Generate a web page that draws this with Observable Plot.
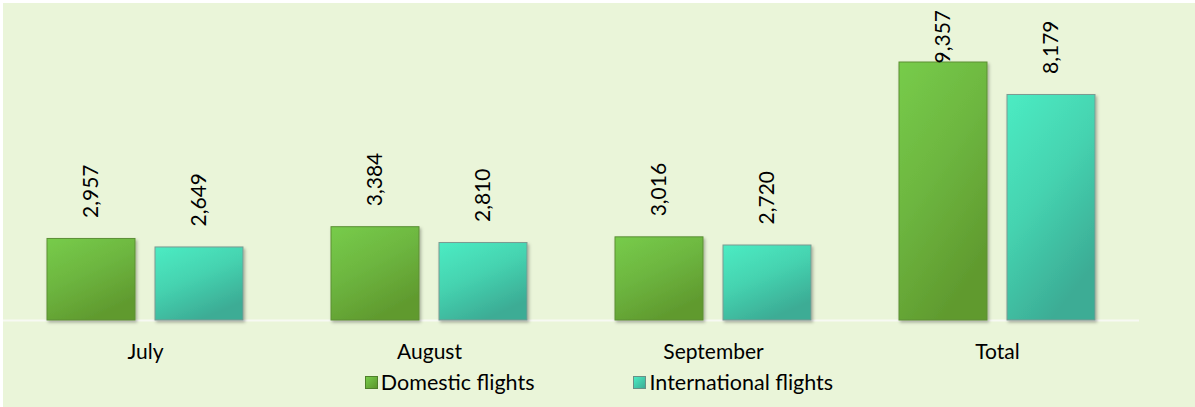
<!DOCTYPE html>
<html><head><meta charset="utf-8">
<script src="https://cdn.jsdelivr.net/npm/d3@7"></script>
<script src="https://cdn.jsdelivr.net/npm/@observablehq/plot@0.6"></script>
<style>
body{margin:0;background:#fff;}
#frame{position:absolute;left:3px;top:3px;width:1192px;height:404px;background:#eaf5d9;font-family:Lato,sans-serif;color:#000;}
#plot svg{display:block;}
#legend{display:flex;justify-content:center;align-items:center;gap:99px;height:28px;font-size:21.5px;}
#legend .item{display:flex;align-items:center;gap:3px;}
#legend .sw{width:13px;height:13px;box-sizing:border-box;}
</style></head><body>
<div id="frame"><div id="plot"></div><div id="legend"></div></div>
<script>
const months = ["July", "August", "September", "Total"];
const series = ["Domestic flights", "International flights"];
const domestic = [2957, 3384, 3016, 9357];
const international = [2649, 2810, 2720, 8179];

const data = months.flatMap((m, i) => [
  {month: m, series: series[0], value: domestic[i]},
  {month: m, series: series[1], value: international[i]}
]);
const fmt = d3.format(",");

const chart = Plot.plot({
  width: 1192, height: 365,
  marginTop: 59, marginBottom: 48, marginLeft: 0, marginRight: 56,
  style: {background: "transparent", fontFamily: "Lato, sans-serif", fontSize: "21px", color: "#000"},
  fx: {domain: months, padding: 0, label: null, axis: "bottom", tickSize: 0, tickPadding: 24},
  x: {domain: series, paddingInner: 20 / 108, paddingOuter: 44 / 108, axis: null},
  y: {domain: [0, 9357], axis: null},
  marks: [
    Plot.ruleY([0], {stroke: "#f7f9f3", strokeWidth: 2}),
    Plot.barY(data.filter(d => d.series === series[0]), {fx: "month", x: "series", y: "value", fill: "url(#gDom)", stroke: "#5c8f35", strokeWidth: 1}),
    Plot.barY(data.filter(d => d.series === series[1]), {fx: "month", x: "series", y: "value", fill: "url(#gInt)", stroke: "#7c9a92", strokeWidth: 1}),
    Plot.text(data, {fx: "month", x: "series", y: d => Math.min(d.value, 8560), dy: -21, rotate: -90, textAnchor: "start",
      text: d => fmt(d.value), fill: "#000", fontSize: 21})
  ]
});

const svg = d3.select(chart);
const defs = svg.insert("defs", ":first-child");
function grad(id, c1, c2, c3) {
  const g = defs.append("linearGradient").attr("id", id).attr("x1", 0).attr("y1", 0).attr("x2", 0.5).attr("y2", 1);
  g.append("stop").attr("offset", "0%").attr("stop-color", c1);
  g.append("stop").attr("offset", "50%").attr("stop-color", c2);
  g.append("stop").attr("offset", "100%").attr("stop-color", c3);
}
grad("gDom", "#77cc4a", "#6db640", "#609a2e");
grad("gInt", "#4cecc3", "#45d3b0", "#3cac95");
const f = defs.append("filter").attr("id", "shadow").attr("x", "-10%").attr("y", "-10%").attr("width", "130%").attr("height", "130%");
f.append("feDropShadow").attr("dx", 1.5).attr("dy", 2).attr("stdDeviation", 1.5).attr("flood-color", "#000").attr("flood-opacity", 0.3);
svg.selectAll("g[aria-label=bar] rect").attr("filter", "url(#shadow)");

document.getElementById("plot").appendChild(chart);

const legendColors = [
  {bg: "linear-gradient(135deg,#77cc4a,#5c962c)", border: "#4f7f2a"},
  {bg: "linear-gradient(135deg,#4cecc3,#3cac95)", border: "#6b8f86"}
];
const legend = d3.select("#legend");
series.forEach((s, i) => {
  const it = legend.append("div").attr("class", "item");
  it.append("div").attr("class", "sw").style("background", legendColors[i].bg).style("border", "1px solid " + legendColors[i].border);
  it.append("span").text(s);
});
</script>
</body></html>
